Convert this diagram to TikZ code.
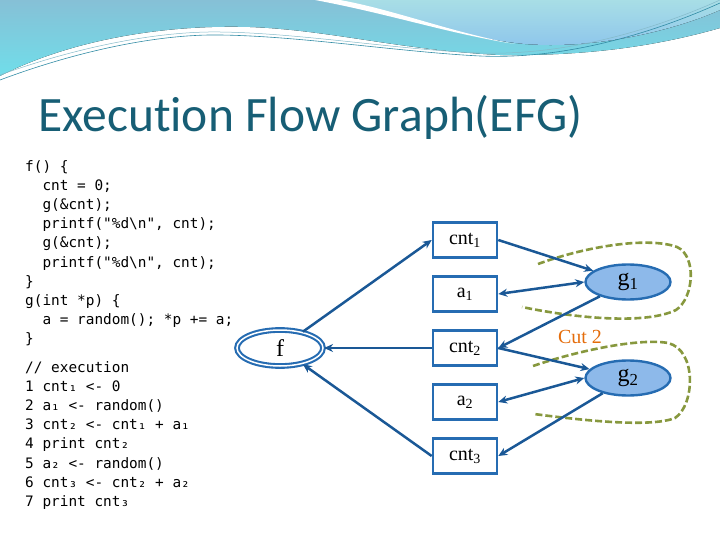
\documentclass[tikz,border=0pt]{standalone}
\usepackage{fontspec}
\newfontfamily\titlefont{Carlito}[Ligatures=NoCommon]
\newfontfamily\codefont{DejaVu Sans Mono}
\newfontfamily\labelfont{Liberation Serif}
\usepackage{tikz}
\usetikzlibrary{arrows.meta, shapes.geometric}
\usepackage{xcolor}
\definecolor{titleteal}{RGB}{23,94,117}
\definecolor{boxblue}{RGB}{38,108,178}
\definecolor{edgeblue}{RGB}{26,88,150}
\definecolor{gfill}{RGB}{141,185,234}
\definecolor{cutolive}{RGB}{135,152,62}
\definecolor{cutorange}{RGB}{228,108,10}
\definecolor{topblue}{RGB}{134,192,214}
\definecolor{topcyan}{RGB}{112,222,234}
\definecolor{lightcyan}{RGB}{168,222,230}
\definecolor{deepcyan}{RGB}{140,196,236}
\definecolor{waveline}{RGB}{50,140,165}
\newcommand{\ind}{\hphantom{xx}}

\begin{document}
\begin{tikzpicture}[x=1pt, y=-1pt,
        var/.style={rectangle, draw=boxblue, line width=2.6pt, minimum width=64pt, minimum height=35pt, font=\labelfont\fontsize{20}{22}\selectfont},
        call/.style={ellipse, draw=boxblue, line width=2.4pt, fill=gfill, minimum width=85pt, minimum height=35pt, font=\labelfont\fontsize{24}{26}\selectfont},
        fnode/.style={ellipse, draw=boxblue, double=white, double distance=1.5pt, line width=2.1pt, minimum width=86pt, minimum height=36pt, font=\labelfont\fontsize{24}{26}\selectfont},
        arr/.style={-{Stealth[length=9pt, width=8pt]}, line width=2.5pt, draw=edgeblue},
        both/.style={{Stealth[length=9pt, width=8pt]}-{Stealth[length=9pt, width=8pt]}, line width=2.5pt, draw=edgeblue},
        lasso/.style={draw=cutolive, line width=2.6pt, dash pattern=on 7pt off 3pt},
        code/.style={anchor=north west, align=left, inner sep=0pt, font=\codefont\fontsize{14.4}{19.2}\selectfont}
    ]
        \useasboundingbox (0,0) rectangle (720,540);

        % Background waves
        \fill[top color=topblue, bottom color=topcyan] (0,0) -- (720,0) -- (720,28) .. controls (650,48) and (580,56) .. (500,55) .. controls (400,50) and (330,30) .. (250,27) .. controls (150,24) and (60,45) .. (0,76) -- cycle;
        \fill[top color=lightcyan, bottom color=deepcyan] (335,0) .. controls (400,14) and (460,38) .. (525,44) .. controls (600,50) and (680,28) .. (720,10) -- (720,0) -- cycle;
        \fill[white] (315,0) .. controls (390,14) and (450,34) .. (515,44) .. controls (450,32) and (395,10) .. (340,0) -- cycle;
        \draw[waveline, line width=0.6pt] (0,80) .. controls (80,50) and (160,34) .. (220,35) .. controls (300,36) and (400,52) .. (480,56) .. controls (570,60) and (660,30) .. (720,3);
        \draw[waveline!60, line width=0.5pt] (0,75) .. controls (80,46) and (160,31) .. (220,32) .. controls (300,33) and (400,50) .. (480,53) .. controls (570,56) and (660,27) .. (720,0);

        % Title
        \node[anchor=base west, inner sep=0pt, text=titleteal, font=\titlefont\fontsize{49.5}{55}\selectfont] (title) at (38,132) {Execution Flow Graph(EFG)};

        % Code listing
        \node[code] (src) at (25,160) {f() \{\\
            \ind cnt = 0;\\
            \ind g(\&cnt);\\
            \ind printf("\%d\textbackslash n", cnt);\\
            \ind g(\&cnt);\\
            \ind printf("\%d\textbackslash n", cnt);\\
            \}\\
            g(int *p) \{\\
            \ind a = random(); *p += a;\\
            \}};
        \node[code] (trace) at (25,361) {// execution\\
            1 cnt₁ <- 0\\
            2 a₁ <- random()\\
            3 cnt₂ <- cnt₁ + a₁\\
            4 print cnt₂\\
            5 a₂ <- random()\\
            6 cnt₃ <- cnt₂ + a₂\\
            7 print cnt₃};

        % Graph nodes
        \node[fnode] (f) at (280,348) {f};
        \node[var] (cnt1) at (465,240) {cnt\textsubscript{1}};
        \node[var] (a1) at (465,294) {a\textsubscript{1}};
        \node[var] (cnt2) at (465,348) {cnt\textsubscript{2}};
        \node[var] (a2) at (465,402) {a\textsubscript{2}};
        \node[var] (cnt3) at (465,456) {cnt\textsubscript{3}};
        \node[call] (g1) at (628,282) {g\textsubscript{1}};
        \node[call] (g2) at (628,378) {g\textsubscript{2}};
        \node[text=cutorange, font=\labelfont\fontsize{20}{22}\selectfont] (cut) at (580,337) {Cut 2};

        % Cuts
        \draw[lasso] (538,264) .. controls (590,245) and (650,237) .. (677,247) .. controls (697,256) and (694,298) .. (676,310) .. controls (645,325) and (575,318) .. (522,307);
        \draw[lasso] (533,366) .. controls (580,350) and (640,338) .. (668,343) .. controls (697,350) and (695,405) .. (675,418) .. controls (650,428) and (580,420) .. (534,414);

        % Arrows
        \draw[arr] (f) -- (cnt1.west);
        \draw[arr] (cnt2) -- (f);
        \draw[arr] (cnt3.west) -- (f);
        \draw[arr] (cnt1.east) -- (g1);
        \draw[both] (a1.east) -- (g1.west);
        \draw[arr] (g1) -- (cnt2.east);
        \draw[arr] (cnt2.east) -- (g2);
        \draw[both] (a2.east) -- (g2.west);
        \draw[arr] (g2) -- (cnt3.east);
    \end{tikzpicture}
\end{document}
